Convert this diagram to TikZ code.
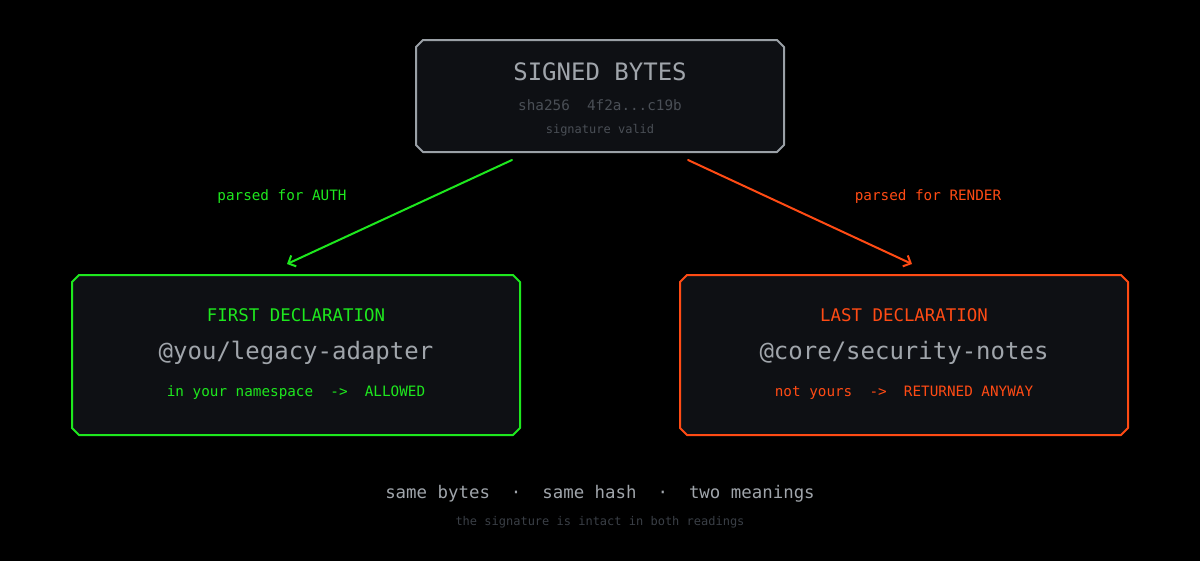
\documentclass[tikz,border=0pt]{standalone}
\usepackage{fontspec}
\setmainfont{DejaVu Sans Mono}
\usepackage{tikz}
\usetikzlibrary{arrows.meta,positioning}
\definecolor{boxfill}{HTML}{0E1014}
\definecolor{greyline}{HTML}{9AA0A6}
\definecolor{greytext}{HTML}{A0A5AB}
\definecolor{dimtext}{HTML}{4A4F56}
\definecolor{faint}{HTML}{3A3F46}
\definecolor{authgreen}{HTML}{1EE81E}
\definecolor{renderred}{HTML}{FF4B14}
\newcommand\cardline[2]{\draw[#2,fill=boxfill,line width=2pt]
([xshift=7pt]#1.north west) -- ([xshift=-7pt]#1.north east) -- ([yshift=-7pt]#1.north east) --
([yshift=7pt]#1.south east) -- ([xshift=-7pt]#1.south east) -- ([xshift=7pt]#1.south west) --
([yshift=7pt]#1.south west) -- ([yshift=-7pt]#1.north west) -- cycle;}

\begin{document}
\begin{tikzpicture}[x=1pt,y=-1pt,line cap=round,line join=round,>={Straight Barb[length=6pt,width=12pt]},
card/.style={rectangle,inner sep=0pt,outer sep=0pt},
txt/.style={anchor=base,inner sep=0pt},
big/.style={txt,font=\fontsize{24}{28}\selectfont},
mid/.style={txt,font=\fontsize{17.4}{20}\selectfont},
small/.style={txt,font=\fontsize{14.3}{17}\selectfont},
tiny/.style={txt,font=\fontsize{12}{14}\selectfont}]
\useasboundingbox (0,0) rectangle (1200,560);
\fill[black] (-3,-3) rectangle (1203,563);
\node[card,minimum width=368pt,minimum height=112pt] (signed) at (600,96) {};
\node[card,minimum width=448pt,minimum height=160pt] (first) at (296,355) {};
\node[card,minimum width=448pt,minimum height=160pt] (last) at (904,355) {};
\cardline{signed}{greyline}
\cardline{first}{authgreen}
\cardline{last}{renderred}
\node[big,text=greytext] (signedtitle) at (600,80) {SIGNED BYTES};
\node[small,text=dimtext] (hash) at (600,110) {sha256\ \ 4f2a...c19b};
\node[tiny,text=dimtext] (valid) at (600,133) {signature valid};
\node[mid,text=authgreen] (firsttitle) at (296,321) {FIRST DECLARATION};
\node[big,text=greytext] (firstpkg) at (296,359) {@you/legacy-adapter};
\node[small,text=authgreen] (firstnote) at (296,396) {in your namespace\ \ ->\ \ ALLOWED};
\node[mid,text=renderred] (lasttitle) at (904,321) {LAST DECLARATION};
\node[big,text=greytext] (lastpkg) at (904,359) {@core/security-notes};
\node[small,text=renderred] (lastnote) at (904,396) {not yours\ \ ->\ \ RETURNED ANYWAY};
\node[small,text=authgreen] (authlabel) at (282,200) {parsed for AUTH};
\node[small,text=renderred] (renderlabel) at (928,200) {parsed for RENDER};
\node[mid,text=greytext] (summary) at (600,498) {same bytes\ \ ·\ \ same hash\ \ ·\ \ two meanings};
\node[tiny,text=faint] (footer) at (600,525) {the signature is intact in both readings};
\draw[->,authgreen,line width=2pt] ([xshift=-88pt,yshift=-8pt]signed.south) -- ([xshift=-9pt,yshift=11pt]first.north);
\draw[->,renderred,line width=2pt] ([xshift=88pt,yshift=-8pt]signed.south) -- ([xshift=8pt,yshift=11pt]last.north);
\end{tikzpicture}
\end{document}
